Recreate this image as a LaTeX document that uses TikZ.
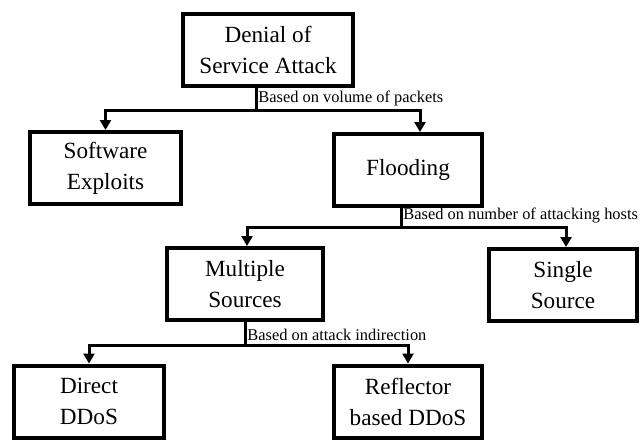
\documentclass[tikz,border=0pt]{standalone}
\usepackage{fontspec}
\setmainfont{Liberation Serif}
\usetikzlibrary{arrows.meta}
\begin{document}
\begin{tikzpicture}[
    x=0.5pt, y=-0.5pt,
    box/.style={draw, line width=2pt, align=center, inner sep=2pt,
        minimum width=74pt, minimum height=36pt,
        font=\fontsize{11.6}{15.5}\selectfont},
    wire/.style={draw, line width=1.5pt},
    drop/.style={wire, -{Triangle[length=5pt,width=5.5pt]}},
    basis/.style={anchor=south west, inner sep=1pt, yshift=1pt,
        font=\fontsize{8.2}{9}\selectfont}
]
    \useasboundingbox (0,0) rectangle (641,441);
    % boxes
    \node[box, minimum width=85pt] (dos) at (268,50) {Denial of\\Service Attack};
    \node[box, minimum width=75.5pt] (soft) at (105.5,168) {Software\\Exploits};
    \node[box] (flood) at (408,170) {Flooding};
    \node[box, minimum width=78pt] (multi) at (245,284) {Multiple\\Sources};
    \node[box] (single) at (563,285) {Single\\Source};
    \node[box, minimum width=75pt] (direct) at (89,401.5) {Direct\\DDoS};
    \node[box] (refl) at (408,401.5) {Reflector\\based DDoS};
    % branch points
    \coordinate (s1) at (256,110);
    \coordinate (s2) at (401,227);
    \coordinate (s3) at (245,345);
    % connectors
    \draw[wire] (dos.south -| s1) -- (s1);
    \draw[drop] (s1) -| (soft);
    \draw[drop] (s1) -| ([xshift=6pt]flood.north);
    \node[basis] (t1) at (s1) {Based on volume of packets};
    \draw[wire] (flood.south -| s2) -- (s2);
    \draw[drop] (s2) -| ([xshift=1pt]multi.north);
    \draw[drop] (s2) -| ([xshift=1.5pt]single.north);
    \node[basis] (t2) at (s2) {Based on number of attacking hosts};
    \draw[wire] (multi) -- (s3);
    \draw[drop] (s3) -| (direct);
    \draw[drop] (s3) -| (refl);
    \node[basis] (t3) at (s3) {Based on attack indirection};
\end{tikzpicture}
\end{document}
